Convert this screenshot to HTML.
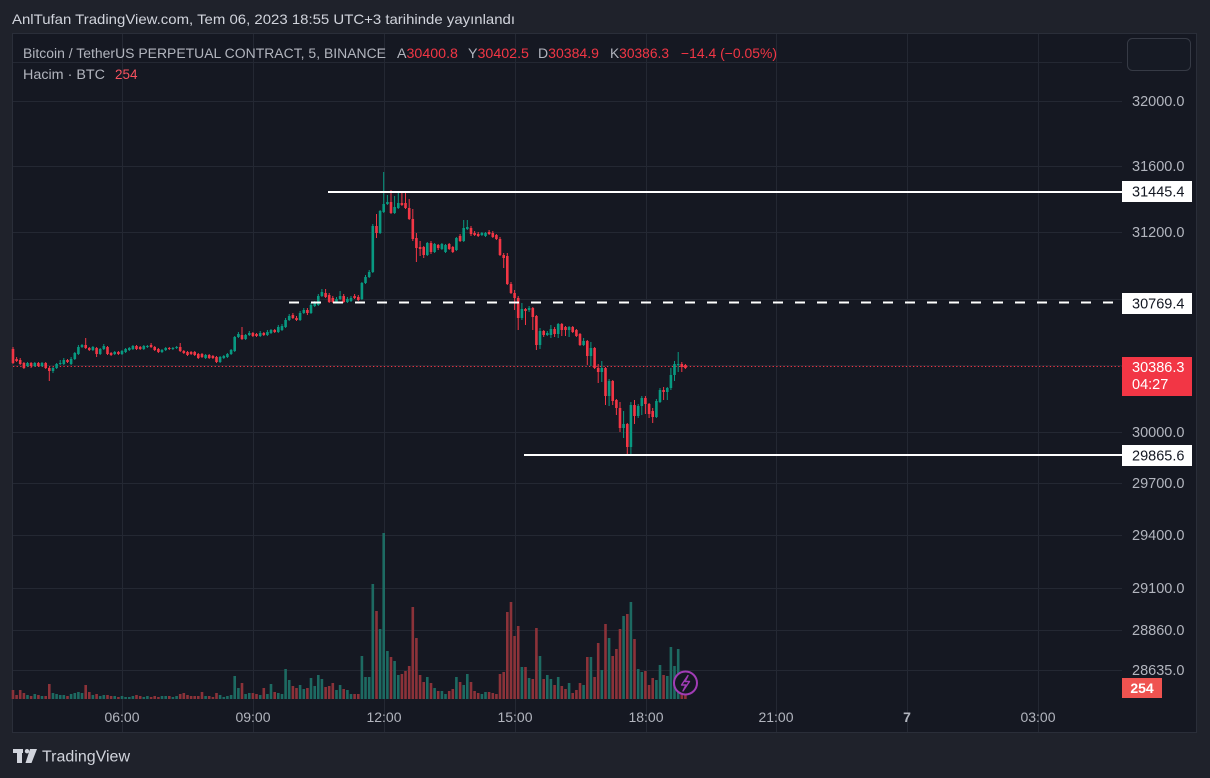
<!DOCTYPE html>
<html><head><meta charset="utf-8"><style>
html,body{margin:0;padding:0;background:#1f222b;width:1210px;height:778px;overflow:hidden}
svg{display:block}
text{font-family:"Liberation Sans",sans-serif}
</style></head><body>
<svg width="1210" height="778" viewBox="0 0 1210 778" xmlns="http://www.w3.org/2000/svg">
<rect x="0" y="0" width="1210" height="778" fill="#1f222b"/>
<text x="12" y="24" font-size="14" fill="#d1d4dc" textLength="503" lengthAdjust="spacingAndGlyphs">AnlTufan TradingView.com, Tem 06, 2023 18:55 UTC+3 tarihinde yayınlandı</text>
<rect x="12.5" y="33.5" width="1184" height="699" fill="#151822" stroke="#2a2e39" stroke-width="1"/>
<!-- grid -->
<g stroke="#242833" stroke-width="1">
<path d="M13 62.5H1122M13 101.5H1122M13 166.5H1122M13 232.5H1122M13 299.5H1122M13 365.5H1122M13 432.5H1122M13 483.5H1122M13 535.5H1122M13 588.5H1122M13 630.5H1122M13 670.5H1122"/>
<path d="M122.5 34V732M253.5 34V732M384.5 34V732M515.5 34V732M646.5 34V732M776.5 34V732M907.5 34V732M1038.5 34V732"/>
</g>
<!-- volume -->
<path fill="none" stroke="#1d6a62" stroke-width="2.6" d="M27.5 699V695M34.8 699V694M42 699V696M53 699V693M56.6 699V694M60.2 699V695M63.8 699V695M71.1 699V694M74.8 699V693M78.4 699V692M82 699V693M92.9 699V695M100.2 699V696M103.8 699V695M114.7 699V696M122 699V696M125.6 699V697M129.3 699V697M132.9 699V696M143.8 699V697M147.4 699V696M162 699V696M165.7 699V696M172.9 699V697M176.6 699V696M205.6 699V696M220.1 699V695M223.8 699V697M227.4 699V696M231.1 699V695M234.7 699V676M238.4 699V688M245.6 699V694M249.3 699V693M260.2 699V695M267.4 699V694M271 699V684M278.3 699V693M282 699V694M285.6 699V669M289.2 699V680M300.1 699V685M303.8 699V689M311 699V678M314.7 699V686M318.3 699V675M321.9 699V679M336.5 699V690M340.1 699V685M347.4 699V690M351 699V694M361.9 699V656M365.5 699V677M369.2 699V677M372.8 699V584M380.1 699V629M383.7 699V533M387.4 699V651M394.6 699V661M398.3 699V675M427.3 699V677M434.6 699V688M441.9 699V691M445.5 699V694M456.4 699V677M463.7 699V685M467.3 699V674M481.9 699V694M485.5 699V692M521.9 699V667M529.1 699V678M540 699V656M547.3 699V675M550.9 699V679M558.2 699V677M569.1 699V683M583.6 699V685M590.9 699V657M601.8 699V670M609.1 699V638M623.6 699V616M630.9 699V602M638.2 699V669M641.8 699V672M656.4 699V680M660 699V665M667.3 699V676M670.9 699V647M674.5 699V666M678.2 699V649"/>
<path fill="none" stroke="#8c3239" stroke-width="2.6" d="M13 699V690M16.6 699V695M20.2 699V690M23.9 699V693M31.1 699V696M38.4 699V695M45.7 699V696M49.3 699V684M67.5 699V696M85.7 699V685M89.3 699V692M96.6 699V694M107.5 699V695M111.1 699V696M118.4 699V697M136.5 699V695M140.2 699V696M151.1 699V697M154.7 699V696M158.4 699V697M169.3 699V696M180.2 699V694M183.8 699V693M187.5 699V695M191.1 699V696M194.7 699V696M198.3 699V696M202 699V692M209.2 699V696M212.9 699V697M216.5 699V693M242 699V683M252.9 699V693M256.5 699V694M263.8 699V688M274.7 699V692M292.9 699V686M296.5 699V688M307.4 699V688M325.6 699V687M329.2 699V686M332.8 699V683M343.7 699V689M354.6 699V694M358.3 699V694M376.5 699V611M391 699V657M401.9 699V674M405.5 699V671M409.2 699V666M412.8 699V607M416.4 699V638M420.1 699V675M423.7 699V682M431 699V683M438.2 699V691M449.2 699V691M452.8 699V689M460.1 699V682M471 699V682M474.6 699V691M478.2 699V693M489.1 699V692M492.8 699V693M496.4 699V694M500 699V674M503.7 699V672M507.3 699V612M511 699V602M514.6 699V636M518.2 699V626M525.5 699V667M532.8 699V679M536.4 699V628M543.7 699V679M554.6 699V685M561.8 699V686M565.5 699V689M572.7 699V693M576.4 699V690M580 699V683M587.3 699V657M594.6 699V677M598.2 699V643M605.5 699V624M612.7 699V656M616.4 699V649M620 699V629M627.3 699V614M634.5 699V639M645.4 699V671M649.1 699V685M652.7 699V678M663.6 699V675M681.8 699V690M685.4 699V695"/>
<!-- current price dotted line -->
<path d="M13 366.5H1122" stroke="#f23645" stroke-width="1" stroke-dasharray="1.3 2.3"/>
<!-- candles green -->
<path fill="none" stroke="#089981" stroke-width="1" d="M27.5 362V367M34.8 362V367M42 362V367M53 367V373M56.6 363V369M60.2 360V365M63.8 358V365M71.1 357V365M74.8 352V360M78.4 345V355M82 344V348M92.9 346V351M100.2 348V355M103.8 344V350M114.7 351V355M122 350V355M125.6 348V353M129.3 347V351M132.9 345V350M143.8 345V350M147.4 345V348M162 349V353M165.7 347V351M172.9 347V350M176.6 346V349M205.6 354V359M220.1 356V363M223.8 355V359M227.4 353V358M231.1 349V355M234.7 336V352M238.4 332V338M245.6 334V340M249.3 331V336M260.2 331V337M267.4 330V336M271 329V334M278.3 325V333M282 324V331M285.6 318V328M289.2 314V321M300.1 311V321M303.8 308V314M311 303V314M314.7 301V307M318.3 294V306M321.9 289V297M336.5 297V303M340.1 291V300M347.4 297V303M351 296V302M361.9 282V300M365.5 275V284M369.2 270V278M372.8 224V273M380.1 210V234M383.7 172V213M387.4 195V205M394.6 196V214M398.3 192V209M427.3 242V256M434.6 243V253M441.9 243V250M445.5 244V253M456.4 237V251M463.7 220V242M467.3 220V230M481.9 232V236M485.5 232V237M521.9 303V320M529.1 306V312M540 328V349M547.3 331V336M550.9 325V338M558.2 323V338M569.1 326V337M583.6 338V346M590.9 342V366M601.8 361V382M609.1 379V406M623.6 411V438M630.9 402V455M638.2 404V418M641.8 396V415M656.4 399V418M660 388V403M667.3 387V400M670.9 368V390M674.5 361V381M678.2 352V372"/>
<path fill="none" stroke="#089981" stroke-width="2.6" d="M27.5 363V366M34.8 363V366M42 363V366M53 368V371M56.6 364V368M60.2 363V364M63.8 360V364M71.1 359V364M74.8 353V359M78.4 347V354M82 345V347M92.9 347V350M100.2 349V354M103.8 346V349M114.7 352V354M122 351V354M125.6 349V352M129.3 348V350M132.9 346V349M143.8 346V349M147.4 346V347M162 350V352M165.7 348V350M172.9 348V349M176.6 347V348M205.6 355V358M220.1 357V362M223.8 356V358M227.4 354V357M231.1 350V354M234.7 337V351M238.4 334V337M245.6 335V339M249.3 333V335M260.2 333V336M267.4 332V335M271 330V333M278.3 327V332M282 326V330M285.6 320V327M289.2 316V320M300.1 313V320M303.8 310V313M311 305V313M314.7 303V306M318.3 296V305M321.9 292V296M336.5 299V302M340.1 296V299M347.4 299V302M351 298V301M361.9 283V299M365.5 277V283M369.2 272V277M372.8 226V272M380.1 211V233M383.7 204V212M387.4 202V204M394.6 207V213M398.3 203V208M427.3 243V255M434.6 244V252M441.9 244V249M445.5 245V252M456.4 238V250M463.7 228V241M467.3 227V229M481.9 233V235M485.5 233V236M521.9 309V318M529.1 308V310M540 331V345M547.3 333V335M550.9 329V335M558.2 324V334M569.1 327V330M583.6 341V345M590.9 348V356M601.8 368V372M609.1 381V396M623.6 424V428M630.9 405V447M638.2 406V416M641.8 398V406M656.4 401V417M660 390V402M667.3 388V392M670.9 375V388M674.5 364V375M678.2 364V365"/>
<!-- candles red -->
<path fill="none" stroke="#f23645" stroke-width="1" d="M13 347V364M16.6 357V362M20.2 358V365M23.9 362V369M31.1 362V368M38.4 362V367M45.7 362V369M49.3 367V381M67.5 359V363M85.7 338V349M89.3 347V351M96.6 347V357M107.5 346V355M111.1 352V356M118.4 351V355M136.5 345V350M140.2 346V350M151.1 343V348M154.7 346V351M158.4 348V353M169.3 347V350M180.2 343V352M183.8 350V354M187.5 351V356M191.1 351V355M194.7 351V356M198.3 353V359M202 353V358M209.2 354V359M212.9 355V359M216.5 356V363M242 327V340M252.9 332V337M256.5 333V337M263.8 332V336M274.7 329V333M292.9 313V319M296.5 316V321M307.4 308V315M325.6 289V298M329.2 293V303M332.8 296V303M343.7 294V303M354.6 294V299M358.3 295V301M376.5 214V238M391 190V214M401.9 192V206M405.5 192V209M409.2 199V220M412.8 209V241M416.4 233V262M420.1 241V256M423.7 246V258M431 241V254M438.2 244V250M449.2 243V250M452.8 246V253M460.1 234V242M471 226V236M474.6 231V236M478.2 232V237M489.1 230V235M492.8 231V238M496.4 234V240M500 237V256M503.7 253V268M507.3 253V285M511 282V294M514.6 290V310M518.2 296V330M525.5 308V325M532.8 307V330M536.4 315V350M543.7 330V337M554.6 327V337M561.8 323V336M565.5 326V336M572.7 326V333M576.4 329V337M580 333V346M587.3 340V365M594.6 347V369M598.2 364V383M605.5 367V405M612.7 380V405M616.4 399V415M620 402V432M627.3 423V455M634.5 400V424M645.4 396V414M649.1 403V418M652.7 408V423M663.6 387V400M681.8 362V372M685.4 364V369"/>
<path fill="none" stroke="#f23645" stroke-width="2.6" d="M13 349V363M16.6 359V361M20.2 360V364M23.9 363V368M31.1 363V366M38.4 363V366M45.7 363V368M49.3 368V371M67.5 360V362M85.7 345V348M89.3 348V350M96.6 348V354M107.5 347V354M111.1 353V355M118.4 352V354M136.5 346V349M140.2 347V349M151.1 345V347M154.7 347V350M158.4 349V352M169.3 348V349M180.2 347V351M183.8 351V353M187.5 352V355M191.1 352V354M194.7 352V355M198.3 354V358M202 354V357M209.2 355V358M212.9 356V358M216.5 357V362M242 335V339M252.9 333V336M256.5 334V336M263.8 333V335M274.7 330V332M292.9 315V318M296.5 318V320M307.4 310V313M325.6 293V297M329.2 295V302M332.8 298V302M343.7 296V302M354.6 296V298M358.3 297V300M376.5 226V233M391 202V213M401.9 203V205M405.5 203V208M409.2 208V219M412.8 219V239M416.4 238V248M420.1 247V249M423.7 247V255M431 243V252M438.2 245V248M449.2 244V249M452.8 247V252M460.1 236V241M471 228V234M474.6 233V235M478.2 234V236M489.1 232V234M492.8 233V237M496.4 235V239M500 239V255M503.7 255V258M507.3 256V284M511 284V293M514.6 293V298M518.2 298V318M525.5 309V311M532.8 308V317M536.4 316V345M543.7 331V335M554.6 329V334M561.8 324V330M565.5 327V330M572.7 327V332M576.4 330V336M580 334V345M587.3 341V356M594.6 348V368M598.2 368V372M605.5 368V396M612.7 381V401M616.4 400V408M620 408V428M627.3 424V447M634.5 405V416M645.4 398V404M649.1 404V414M652.7 411V417M663.6 390V392M681.8 364V367M685.4 365V368"/>
<!-- user lines -->
<path d="M328 192H1122" stroke="#ffffff" stroke-width="2"/>
<path d="M289 302.5H1114" stroke="#ffffff" stroke-width="2" stroke-dasharray="10 12"/>
<path d="M524 455H1122" stroke="#ffffff" stroke-width="2"/>
<!-- lightning icon -->
<circle cx="685.5" cy="683" r="11.5" fill="#151822" stroke="#a13cb5" stroke-width="2"/>
<path d="M688 675.5L681.5 685H686L683 691L689.5 681.5H685Z" fill="none" stroke="#a13cb5" stroke-width="1.4" stroke-linejoin="round"/>
<!-- legend -->
<text x="23" y="58" font-size="13.5" fill="#b2b5be" textLength="363" lengthAdjust="spacingAndGlyphs">Bitcoin / TetherUS PERPETUAL CONTRACT, 5, BINANCE</text>
<text x="397" y="58" font-size="13.5" fill="#b2b5be" textLength="61" lengthAdjust="spacingAndGlyphs">A<tspan fill="#f23645">30400.8</tspan></text>
<text x="468" y="58" font-size="13.5" fill="#b2b5be" textLength="61" lengthAdjust="spacingAndGlyphs">Y<tspan fill="#f23645">30402.5</tspan></text>
<text x="538" y="58" font-size="13.5" fill="#b2b5be" textLength="61" lengthAdjust="spacingAndGlyphs">D<tspan fill="#f23645">30384.9</tspan></text>
<text x="610" y="58" font-size="13.5" fill="#b2b5be" textLength="59" lengthAdjust="spacingAndGlyphs">K<tspan fill="#f23645">30386.3</tspan></text>
<text x="681" y="58" font-size="13.5" fill="#f23645" textLength="96" lengthAdjust="spacingAndGlyphs">−14.4 (−0.05%)</text>
<text x="23" y="79" font-size="13.5" fill="#b2b5be" textLength="82" lengthAdjust="spacingAndGlyphs">Hacim · BTC</text>
<text x="115" y="79" font-size="13.5" fill="#f7525f">254</text>
<!-- top-right button -->
<rect x="1127.5" y="38.5" width="63" height="32" rx="5" fill="#161a24" stroke="#363a45"/>
<!-- price axis labels -->
<g font-size="14.5" fill="#b2b5be">
<text x="1132" y="106">32000.0</text>
<text x="1132" y="171">31600.0</text>
<text x="1132" y="237">31200.0</text>
<text x="1132" y="304">30800.0</text>
<text x="1132" y="437">30000.0</text>
<text x="1132" y="488">29700.0</text>
<text x="1132" y="540">29400.0</text>
<text x="1132" y="593">29100.0</text>
<text x="1132" y="635">28860.0</text>
<text x="1132" y="675">28635.0</text>
</g>
<!-- price boxes -->
<rect x="1122" y="181" width="70" height="21" fill="#ffffff"/>
<text x="1132" y="196.5" font-size="14.5" fill="#131722">31445.4</text>
<rect x="1122" y="293" width="70" height="21" fill="#ffffff"/>
<text x="1132" y="308.5" font-size="14.5" fill="#131722">30769.4</text>
<rect x="1122" y="445" width="70" height="21" fill="#ffffff"/>
<text x="1132" y="460.5" font-size="14.5" fill="#131722">29865.6</text>
<rect x="1122" y="357" width="70" height="39" fill="#f23645"/>
<text x="1132" y="372" font-size="14.5" fill="#ffffff">30386.3</text>
<text x="1132" y="389" font-size="14.5" fill="#ffffff">04:27</text>
<rect x="1122" y="678" width="40" height="20" fill="#ef5350"/>
<text x="1142" y="693" font-size="14" font-weight="bold" fill="#ffffff" text-anchor="middle">254</text>
<!-- time axis -->
<g font-size="14" fill="#b2b5be" text-anchor="middle">
<text x="122" y="722">06:00</text>
<text x="253" y="722">09:00</text>
<text x="384" y="722">12:00</text>
<text x="515" y="722">15:00</text>
<text x="646" y="722">18:00</text>
<text x="776" y="722">21:00</text>
<text x="907" y="722" font-weight="bold">7</text>
<text x="1038" y="722">03:00</text>
</g>
<!-- TradingView logo -->
<g fill="#d1d4dc">
<rect x="13" y="749" width="10" height="4"/>
<rect x="17" y="749" width="5" height="14"/>
<circle cx="27" cy="751.2" r="2.2"/>
<polygon points="30,749 37,749 31.5,763 25.5,763"/>
</g>
<text x="42" y="761.5" font-size="15.5" fill="#d1d4dc" textLength="88" lengthAdjust="spacingAndGlyphs">TradingView</text>
</svg>
</body></html>
